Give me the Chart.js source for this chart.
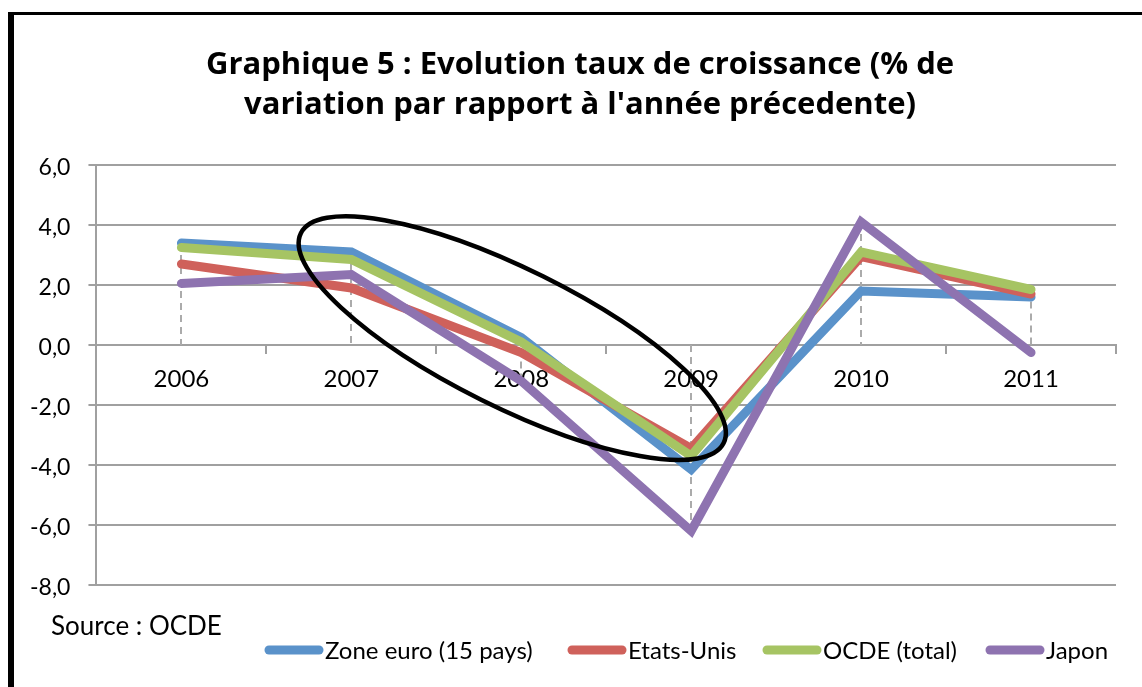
<!DOCTYPE html>
<html><head><meta charset="utf-8">
<script src="https://cdn.jsdelivr.net/npm/chart.js@4.4.1/dist/chart.umd.min.js"></script>
<style>html,body{margin:0;padding:0;background:#fff;} canvas{display:block;}</style>
</head><body>
<canvas id="c" width="1142" height="687"></canvas>
<script>
const categories = ['2006', '2007', '2008', '2009', '2010', '2011'];
const zoneEuro  = [3.4, 3.1, 0.25, -4.15, 1.8, 1.6];
const etatsUnis = [2.7, 1.9, -0.25, -3.45, 2.95, 1.7];
const ocde      = [3.25, 2.85, 0.1, -3.7, 3.1, 1.85];
const japon     = [2.05, 2.35, -1.2, -6.2, 4.1, -0.25];
const seriesNames = ['Zone euro (15 pays)', 'Etats-Unis', 'OCDE (total)', 'Japon'];
const seriesColors = ['#5A92CA', '#CF615B', '#A6C463', '#8E73B0'];
const yTicks = [-8, -6, -4, -2, 0, 2, 4, 6];
const titleLines = ['Graphique 5 : Evolution taux de croissance (% de', "variation par rapport à l'année précedente)"];
const sourceText = 'Source : OCDE';

const FONT = 'Lato';
const TITLE_FONT = '"Open Sans"';
const LEGEND_X = [265, 568, 763, 986];
const seriesValues = [zoneEuro, etatsUnis, ocde, japon];

const decor = {
  id: 'decor',
  beforeDatasetsDraw(chart) {
    const ctx = chart.ctx, xs = chart.scales.x, ys = chart.scales.y;
    ctx.save();
    ctx.strokeStyle = '#ABABAB';
    ctx.lineWidth = 2;
    ctx.setLineDash([7, 5]);
    categories.forEach((c, i) => {
      const vals = seriesValues.map(s => s[i]);
      const lo = Math.min(0, ...vals), hi = Math.max(0, ...vals);
      const x = Math.round(xs.getPixelForValue(i));
      ctx.beginPath();
      ctx.moveTo(x, ys.getPixelForValue(hi));
      ctx.lineTo(x, ys.getPixelForValue(lo));
      ctx.stroke();
    });
    ctx.restore();
  },
  afterDatasetsDraw(chart) {
    const ctx = chart.ctx, xs = chart.scales.x, ys = chart.scales.y;
    ctx.save();
    ctx.strokeStyle = '#000';
    ctx.lineWidth = 4.5;
    ctx.beginPath();
    ctx.ellipse(xs.getPixelForValue(1.947), ys.getPixelForValue(0.23), 236, 69, 26.4 * Math.PI / 180, 0, Math.PI * 2);
    ctx.stroke();
    ctx.restore();
  },
  afterDraw(chart) {
    const ctx = chart.ctx;
    ctx.save();
    // title
    ctx.fillStyle = '#000';
    ctx.textAlign = 'center';
    ctx.textBaseline = 'alphabetic';
    ctx.font = 'bold 31px ' + TITLE_FONT;
    ctx.fillText(titleLines[0], 580, 74);
    ctx.fillText(titleLines[1], 580, 114);
    ctx.textAlign = 'left';
    // legend
    ctx.font = '24px ' + FONT;
    const y = 650;
    seriesNames.forEach((name, i) => {
      const x = LEGEND_X[i];
      ctx.strokeStyle = seriesColors[i];
      ctx.lineWidth = 9;
      ctx.lineCap = 'round';
      ctx.beginPath();
      ctx.moveTo(x + 4, y);
      ctx.lineTo(x + 54, y);
      ctx.stroke();
      ctx.fillText(name, x + 60, 659);
    });
    // source
    ctx.font = '26px ' + FONT;
    ctx.fillText(sourceText, 51, 635);
    // frame
    ctx.fillStyle = '#000';
    ctx.fillRect(8, 12, 6, 700);
    ctx.fillRect(8, 12, 1200, 3);
    ctx.restore();
  }
};

const datasets = seriesNames.map((name, i) => ({
  label: name,
  data: seriesValues[i],
  borderColor: seriesColors[i],
  backgroundColor: seriesColors[i],
  borderWidth: 9,
  pointRadius: 0,
  pointHoverRadius: 0,
  tension: 0,
  borderCapStyle: 'round',
  borderJoinStyle: 'miter',
  order: 4 - i,
  fill: false
}));

new Chart(document.getElementById('c'), {
  type: 'line',
  data: { labels: categories, datasets },
  options: {
    responsive: false,
    animation: false,
    devicePixelRatio: 1,
    layout: { padding: { left: 12, right: 26, top: 165, bottom: 102 } },
    plugins: {
      legend: { display: false },
      tooltip: { enabled: false },
      title: { display: false }
    },
    scales: {
      x: {
        type: 'category',
        position: { y: 0 },
        offset: true,
        grid: { offset: true, drawOnChartArea: false, drawTicks: true, tickLength: 8, color: '#A0A0A0', lineWidth: 2 },
        border: { color: '#A0A0A0', width: 2 },
        ticks: { color: '#000', font: { family: FONT, size: 24 }, padding: 12, maxRotation: 0, autoSkip: false }
      },
      y: {
        min: -8, max: 6,
        afterBuildTicks: s => { s.ticks = yTicks.map(v => ({ value: v })); },
        grid: { color: '#A0A0A0', lineWidth: 2, tickLength: 8, drawTicks: true },
        border: { color: '#A0A0A0', width: 2 },
        ticks: { color: '#000', font: { family: FONT, size: 23 }, padding: 18, labelOffset: 3,
          callback: v => v.toFixed(1).replace('.', ',') }
      }
    }
  },
  plugins: [decor]
});
</script>
</body></html>
